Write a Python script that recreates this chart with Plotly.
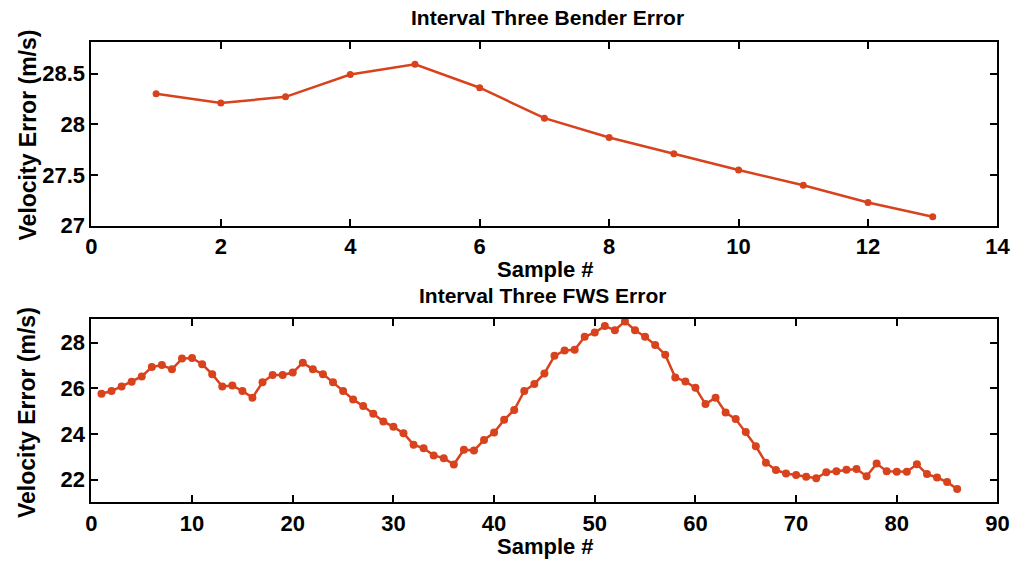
import plotly.graph_objects as go

W, H = 1034, 577

bender_x = list(range(1, 14))
bender_err = [28.30, 28.21, 28.27, 28.49, 28.59, 28.36, 28.06, 27.87, 27.71, 27.55, 27.40, 27.23, 27.09]

fws_x = list(range(1, 87))
fws_err = [25.76, 25.88, 26.08, 26.29, 26.52, 26.93, 27.02, 26.83, 27.30, 27.33,
           27.05, 26.62, 26.08, 26.12, 25.88, 25.59, 26.26, 26.58, 26.58, 26.69,
           27.12, 26.83, 26.62, 26.26, 25.88, 25.51, 25.22, 24.88, 24.55, 24.31,
           24.03, 23.53, 23.37, 23.06, 22.94, 22.66, 23.31, 23.27, 23.74, 24.06,
           24.62, 25.05, 25.88, 26.19, 26.65, 27.42, 27.66, 27.69, 28.26, 28.44,
           28.73, 28.54, 28.93, 28.54, 28.26, 27.90, 27.47, 26.47, 26.30, 26.02,
           25.31, 25.59, 24.94, 24.65, 24.08, 23.46, 22.74, 22.42, 22.27, 22.20,
           22.13, 22.06, 22.32, 22.37, 22.43, 22.46, 22.15, 22.70, 22.37, 22.34,
           22.34, 22.67, 22.24, 22.09, 21.89, 21.59]

top_xticks = [0, 2, 4, 6, 8, 10, 12, 14]
top_yticks = [27, 27.5, 28, 28.5]
bot_xticks = [0, 10, 20, 30, 40, 50, 60, 70, 80, 90]
bot_yticks = [22, 24, 26, 28]

titles = ["Interval Three Bender Error", "Interval Three FWS Error"]
xlabel = "Sample #"
ylabel = "Velocity Error (m/s)"

COLOR = "#d8421c"
FONT = "Liberation Sans"

fig = go.Figure()
fig.add_trace(go.Scatter(x=bender_x, y=bender_err, mode="lines+markers",
                         line=dict(color=COLOR, width=2.5),
                         marker=dict(color=COLOR, size=7),
                         xaxis="x", yaxis="y", showlegend=False))
fig.add_trace(go.Scatter(x=fws_x, y=fws_err, mode="lines+markers",
                         line=dict(color=COLOR, width=2.5),
                         marker=dict(color=COLOR, size=8),
                         xaxis="x2", yaxis="y2", showlegend=False))

xdom = [87 / W, 1010 / W]
ax_common = dict(showgrid=False, zeroline=False, showline=True, linecolor="black",
                 linewidth=2, mirror="ticks", ticks="inside", ticklen=7,
                 tickwidth=2, tickcolor="black",
                 tickfont=dict(family=FONT, size=22, color="black", weight="bold"))

fig.update_layout(
    width=W, height=H,
    margin=dict(l=0, r=0, t=0, b=0),
    paper_bgcolor="white", plot_bgcolor="white",
    xaxis=dict(domain=xdom, range=[0, 14], tickvals=top_xticks, anchor="y",
               ticklabelstandoff=0, **ax_common),
    yaxis=dict(domain=[1 - 231 / H, 1 - 43 / H], range=[27, 28.81], tickvals=top_yticks,
               anchor="x", ticklabelstandoff=0, **ax_common),
    xaxis2=dict(domain=xdom, range=[0, 90], tickvals=bot_xticks, anchor="y2",
                ticklabelstandoff=0, **ax_common),
    yaxis2=dict(domain=[1 - 514 / H, 1 - 326 / H], range=[21, 29.05], tickvals=bot_yticks,
                anchor="x2", ticklabelstandoff=0, **ax_common),
)

def ann(text, px, py, size=22, angle=0):
    fig.add_annotation(text=text, x=px / W, y=1 - py / H, xref="paper", yref="paper",
                       showarrow=False, textangle=angle, xanchor="center", yanchor="middle",
                       font=dict(family=FONT, size=size, color="black", weight="bold"))

ann(titles[0], 552, 18, size=21)
ann(titles[1], 547, 302, size=21)
ann(xlabel, 550, 276)
ann(xlabel, 550, 559)
ann(ylabel, 22, 138, size=23, angle=-90)
ann(ylabel, 22, 422, size=23, angle=-90)

fig.write_html("out.html")
